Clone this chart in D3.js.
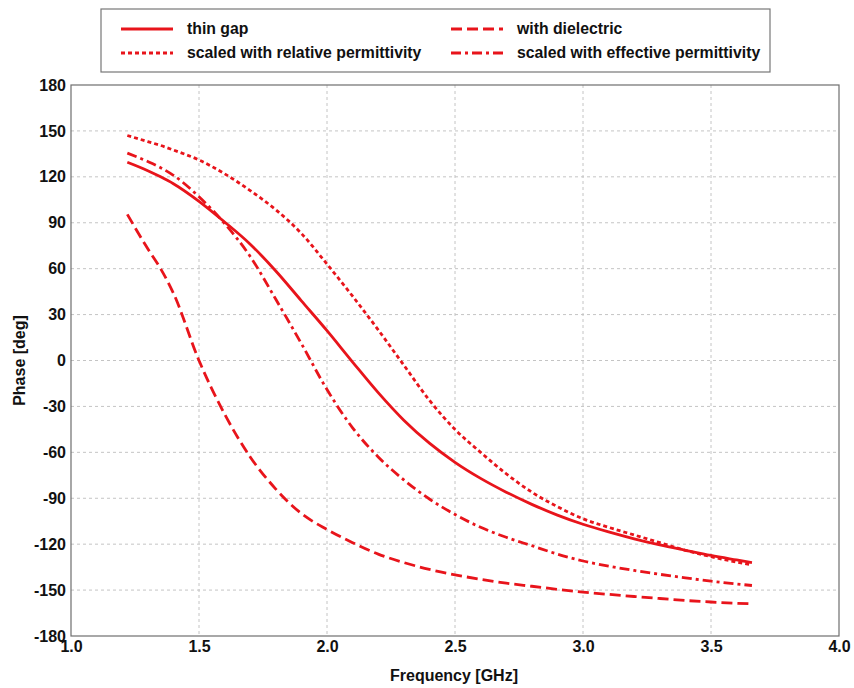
<!DOCTYPE html>
<html>
<head>
<meta charset="utf-8">
<script src="https://cdn.jsdelivr.net/npm/d3@7"></script>
<style>
  html, body { margin: 0; padding: 0; background: #fff; }
  svg { display: block; font-family: "Liberation Sans", Arial, sans-serif; }
</style>
</head>
<body>
<svg id="chart" width="854" height="688"></svg>
<script>
// ---- data ----
const frequency = [1.22, 1.3, 1.35, 1.4, 1.5, 1.6, 1.7, 1.8, 1.9, 2.0, 2.1, 2.2, 2.3, 2.4, 2.5, 2.6, 2.7, 2.8, 2.9, 3.0, 3.1, 3.2, 3.3, 3.4, 3.5, 3.6, 3.66];
const thinGap = [129.5, 124, 120, 115.5, 104, 90.5, 76, 58.5, 39, 19.5, -1, -21, -39, -54, -66.5, -77, -86, -94, -101, -107, -112, -116.5, -120.5, -124, -127.4, -130.3, -132];
const withDielectric = [95.5, 73, 60, 44, 0, -35, -63, -84, -100, -110.4, -119, -126.5, -132, -136.5, -140, -143, -145.5, -147.5, -149.5, -151.3, -152.8, -154.2, -155.5, -156.8, -157.8, -158.6, -159];
const scaledRelative = [147, 143, 140.5, 137.5, 131, 122, 111, 98.5, 83, 63, 42, 20, -3, -26, -45, -60, -74, -86, -95.5, -103.4, -109, -114, -119, -124, -128.2, -131.7, -133.5];
const scaledEffective = [135.5, 130, 126, 121, 107, 89.5, 68, 40, 11, -19, -44, -63, -78, -90.5, -100.6, -109, -115.5, -121, -126.5, -131, -134.3, -137.2, -139.7, -142, -144.2, -146, -147];

const seriesNames = ["thin gap", "with dielectric", "scaled with relative permittivity", "scaled with effective permittivity"];
const seriesValues = [thinGap, withDielectric, scaledRelative, scaledEffective];
const seriesDash = [null, "11,5", "4,3", "10,4,3,4"];

const xTicks = [1.0, 1.5, 2.0, 2.5, 3.0, 3.5, 4.0];
const yTicks = [-180, -150, -120, -90, -60, -30, 0, 30, 60, 90, 120, 150, 180];

// ---- layout ----
const svg = d3.select("#chart");
const pLeft = 71, pRight = 839, pTop = 85, pBottom = 636;
const red = "#e8141b";
const fontStack = "Liberation Sans, Arial, sans-serif";

const x = d3.scaleLinear().domain([1.0, 4.0]).range([pLeft, pRight]);
const y = d3.scaleLinear().domain([-180, 180]).range([pBottom, pTop]);

// grid
const grid = svg.append("g");
grid.selectAll(".gx").data(xTicks.slice(1, -1)).join("line")
  .attr("x1", d => x(d)).attr("x2", d => x(d))
  .attr("y1", pTop).attr("y2", pBottom)
  .attr("stroke", "#c4c4c4").attr("stroke-width", 1).attr("stroke-dasharray", "3,3");
grid.selectAll(".gy").data(yTicks.slice(1, -1)).join("line")
  .attr("x1", pLeft).attr("x2", pRight)
  .attr("y1", d => y(d)).attr("y2", d => y(d))
  .attr("stroke", "#c4c4c4").attr("stroke-width", 1).attr("stroke-dasharray", "3,3");

// axes (labels only; frame drawn separately)
const xAxis = d3.axisBottom(x).tickValues(xTicks).tickFormat(d => d.toFixed(1)).tickSize(0).tickPadding(5);
const yAxis = d3.axisLeft(y).tickValues(yTicks).tickFormat(d => String(d)).tickSize(0).tickPadding(5);
const gx = svg.append("g").attr("transform", `translate(0,${pBottom})`).call(xAxis);
const gy = svg.append("g").attr("transform", `translate(${pLeft},0)`).call(yAxis);
[gx, gy].forEach(g => {
  g.select(".domain").remove();
  g.selectAll("text").attr("font-size", 16).attr("font-weight", "bold").attr("fill", "#111")
    .attr("font-family", fontStack);
});

// frame
svg.append("rect").attr("x", pLeft).attr("y", pTop).attr("width", pRight - pLeft).attr("height", pBottom - pTop)
  .attr("fill", "none").attr("stroke", "#6e6e6e").attr("stroke-width", 1.2);

// lines
const line = d3.line().x((d, i) => x(frequency[i])).y(d => y(d)).curve(d3.curveMonotoneX);
svg.append("g").selectAll("path").data(seriesValues).join("path")
  .attr("d", d => line(d))
  .attr("fill", "none").attr("stroke", red).attr("stroke-width", 2.8)
  .attr("stroke-dasharray", (d, i) => seriesDash[i]);

// axis titles
svg.append("text").attr("x", 454).attr("y", 681)
  .attr("text-anchor", "middle").attr("font-size", 16).attr("font-weight", "bold").attr("fill", "#111")
  .attr("font-family", fontStack)
  .text("Frequency [GHz]");
svg.append("text").attr("transform", `translate(25,${(pTop + pBottom) / 2}) rotate(-90)`)
  .attr("text-anchor", "middle").attr("font-size", 16).attr("font-weight", "bold").attr("fill", "#111")
  .attr("font-family", fontStack)
  .text("Phase [deg]");

// legend
const legend = svg.append("g");
legend.append("rect").attr("x", 101).attr("y", 9).attr("width", 669).attr("height", 63)
  .attr("fill", "#fff").attr("stroke", "#777").attr("stroke-width", 1.2);
const legPos = [[121, 29], [451, 29], [121, 53], [451, 53]];
[0, 1, 2, 3].forEach((s, k) => {
  const [lx, ly] = legPos[k];
  legend.append("line").attr("x1", lx).attr("x2", lx + 52).attr("y1", ly).attr("y2", ly)
    .attr("stroke", red).attr("stroke-width", 2.8).attr("stroke-dasharray", seriesDash[s]);
  legend.append("text").attr("x", lx + 66).attr("y", ly + 5)
    .attr("font-size", 15.8).attr("font-weight", "bold").attr("fill", "#111")
    .attr("font-family", fontStack)
    .text(seriesNames[s]);
});
</script>
</body>
</html>
